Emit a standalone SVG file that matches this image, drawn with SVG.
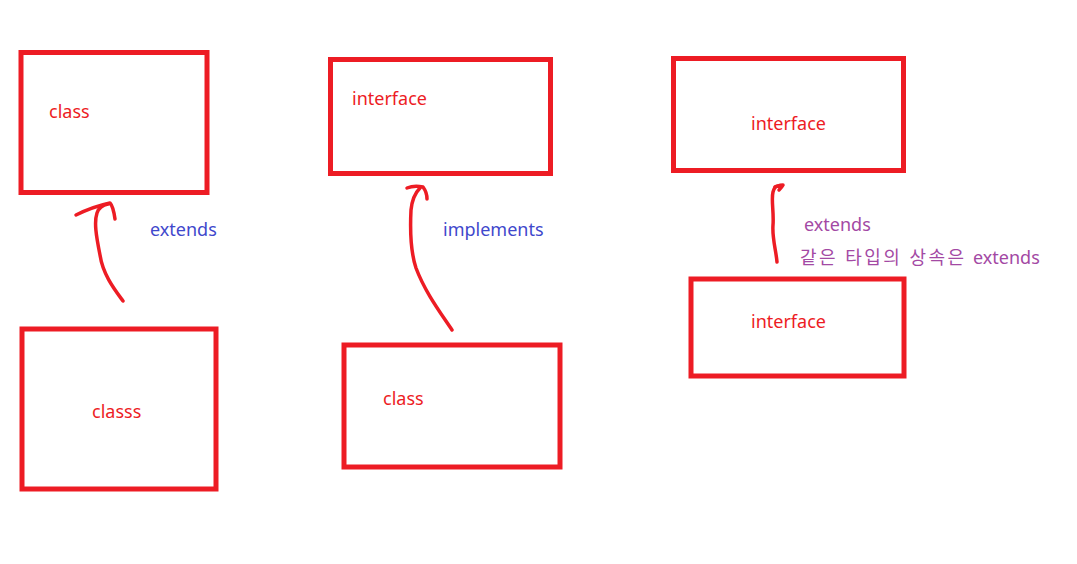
<svg xmlns="http://www.w3.org/2000/svg" width="1077" height="564" viewBox="0 0 1077 564">
<style>
.box{fill:none;stroke:#ED1C24;stroke-width:5}
.t{font-family:"Noto Sans","Noto Sans CJK KR",sans-serif;font-size:18px}
.r{fill:#ED1C24}
.b{fill:#3F48CC}
.p{fill:#A349A4}
.arr{fill:none;stroke:#ED1C24;stroke-width:3.5;stroke-linecap:round;stroke-linejoin:round}
</style>
<rect width="1077" height="564" fill="#fff"/>
<g id="n1"><rect class="box" x="21" y="52.5" width="186" height="140"/><text class="t r" x="49" y="118">class</text></g>
<g id="n2"><rect class="box" x="330.5" y="59.5" width="220" height="114"/><text class="t r" x="352" y="105">interface</text></g>
<g id="n3"><rect class="box" x="673.5" y="58.5" width="230" height="112"/><text class="t r" x="751" y="130">interface</text></g>
<g id="n4"><rect class="box" x="22" y="329" width="194" height="160"/><text class="t r" x="92" y="418">classs</text></g>
<g id="n5"><rect class="box" x="344" y="345" width="216" height="122"/><text class="t r" x="383" y="405">class</text></g>
<g id="n6"><rect class="box" x="691" y="279" width="213" height="97"/><text class="t r" x="751" y="328">interface</text></g>
<g id="connectors">
<path class="arr" d="M123,301 C115,290 103,275 100,255 C96,235 94,222 97,213 C99,207 103,205 108,204"/>
<path class="arr" d="M76,215 C86,210 96,206 110,203 C113,206 114,212 115,219"/>
<path class="arr" d="M452,330 C440,312 425,292 416,268 C410,250 410,230 411,210 C412,200 415,193 420,188"/>
<path class="arr" d="M407,188 C412,186 418,186 423,187 C426,191 427,195 427,199"/>
<path class="arr" d="M777,262 C776,250 772,238 773,225 C774,212 771,200 773,192 C774,188 776,186 778,186"/>
<path class="arr" d="M775,187 C778,186 780,185 783,185 C782,187 780,189 779,190"/>
</g>
<text class="t b" x="150" y="236">extends</text>
<text class="t b" x="443" y="236">implements</text>
<text class="t p" x="804" y="231">extends</text>
<text class="t p" y="264"><tspan x="800" textLength="164" lengthAdjust="spacing">같은 타입의 상속은</tspan><tspan x="973">extends</tspan></text>
</svg>
